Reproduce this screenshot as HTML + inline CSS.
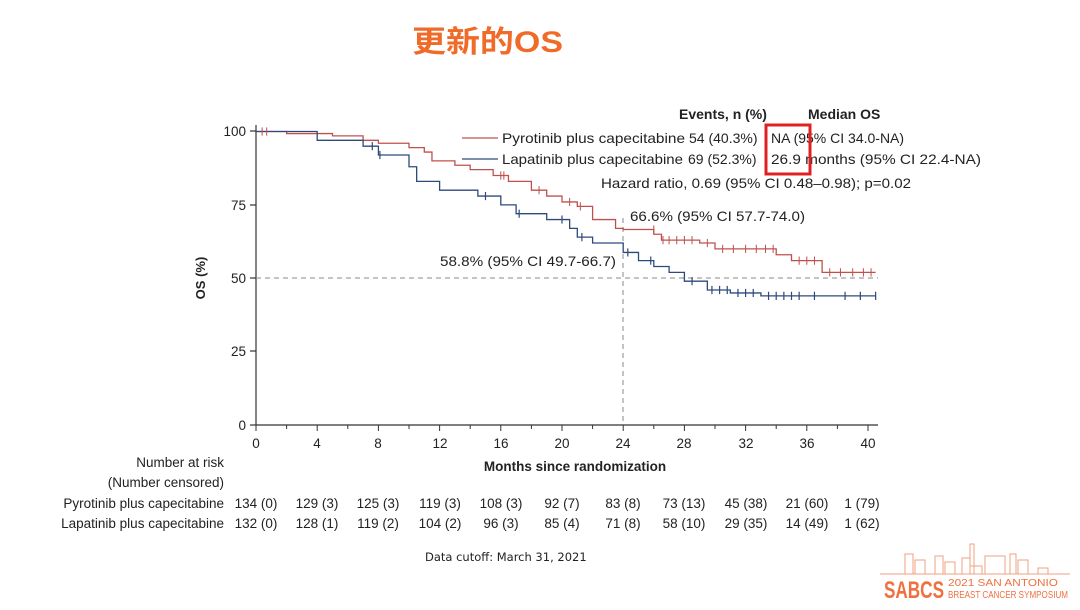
<!DOCTYPE html>
<html><head><meta charset="utf-8"><style>
body{margin:0;width:1080px;height:605px;background:#fff;overflow:hidden;font-family:"Liberation Sans",Arial,sans-serif;}
</style></head><body>
<svg width="1080" height="605" xmlns="http://www.w3.org/2000/svg" font-family="Liberation Sans, Arial, sans-serif">
<text x="412" y="52" font-size="30" font-weight="bold" fill="#f06a28" font-family="Liberation Sans, Noto Sans CJK SC, sans-serif" textLength="151" lengthAdjust="spacingAndGlyphs">更新的OS</text>
<g stroke="#333" stroke-width="1.2" fill="none">
<line x1="256" y1="125" x2="256" y2="425"/>
<line x1="256" y1="425" x2="878" y2="425"/>
<line x1="250" y1="131" x2="256" y2="131"/><line x1="250" y1="205" x2="256" y2="205"/><line x1="250" y1="278" x2="256" y2="278"/><line x1="250" y1="351" x2="256" y2="351"/><line x1="250" y1="425" x2="256" y2="425"/>
</g>
<g stroke="#333" stroke-width="1">
<line x1="256" y1="425" x2="256" y2="431"/><line x1="286.6" y1="425" x2="286.6" y2="429"/><line x1="317.2" y1="425" x2="317.2" y2="431"/><line x1="347.8" y1="425" x2="347.8" y2="429"/><line x1="378.4" y1="425" x2="378.4" y2="431"/><line x1="409" y1="425" x2="409" y2="429"/><line x1="439.6" y1="425" x2="439.6" y2="431"/><line x1="470.2" y1="425" x2="470.2" y2="429"/><line x1="500.8" y1="425" x2="500.8" y2="431"/><line x1="531.4" y1="425" x2="531.4" y2="429"/><line x1="562" y1="425" x2="562" y2="431"/><line x1="592.6" y1="425" x2="592.6" y2="429"/><line x1="623.2" y1="425" x2="623.2" y2="431"/><line x1="653.8" y1="425" x2="653.8" y2="429"/><line x1="684.4" y1="425" x2="684.4" y2="431"/><line x1="715" y1="425" x2="715" y2="429"/><line x1="745.6" y1="425" x2="745.6" y2="431"/><line x1="776.2" y1="425" x2="776.2" y2="429"/><line x1="806.8" y1="425" x2="806.8" y2="431"/><line x1="837.4" y1="425" x2="837.4" y2="429"/><line x1="868" y1="425" x2="868" y2="431"/>
</g>
<g font-size="13.5" fill="#222" text-anchor="end">
<text x="246" y="136">100</text><text x="246" y="210">75</text><text x="246" y="283">50</text><text x="246" y="356">25</text><text x="246" y="430">0</text>
</g>
<g font-size="13.5" fill="#222" text-anchor="middle">
<text x="256" y="448">0</text><text x="317" y="448">4</text><text x="378" y="448">8</text><text x="440" y="448">12</text><text x="501" y="448">16</text><text x="562" y="448">20</text><text x="623" y="448">24</text><text x="684" y="448">28</text><text x="746" y="448">32</text><text x="807" y="448">36</text><text x="868" y="448">40</text>
<text x="575" y="471" font-weight="bold">Months since randomization</text>
</g>
<text transform="translate(205,278) rotate(-90)" font-size="13" font-weight="bold" text-anchor="middle" fill="#222">OS (%)</text>
<g stroke="#888" stroke-dasharray="5,4" stroke-width="1">
<line x1="256" y1="278" x2="878" y2="278"/><line x1="623" y1="218" x2="623" y2="425"/>
</g>
<g transform="translate(256,425) scale(15.3,-2.935)" fill="none">
<path vector-effect="non-scaling-stroke" stroke-width="1.3" stroke="#c0504d" d="M0,100H2V99.3H5V98.5H7V97H8V96H10V94.5H11V93H11.5V90H13V88.5H14V87H15.5V85H16.5V83H18V80H19V78H20V76H21V74.5H22V70H23.5V67H24V66.6H26V65H26.5V63H29V62H30V60H34V58H35V56H37V52H40.5"/>
<path vector-effect="non-scaling-stroke" stroke-width="1.3" stroke="#2e4a7d" d="M0,100H4V97H7V95H8V92H10V88H10.5V83H12V80H14.5V78H16V75H17V72H19V70H20.5V67H21V64H22V62H24V58.8H25V56H26V54H27V52H28V49H29.5V46H31V45H33V44H40.5"/>
<path vector-effect="non-scaling-stroke" stroke-width="1" stroke="#c0504d" d="M0.4,101.4v-2.8M0.7,101.4v-2.8M16,86.4v-2.8M16.2,86.4v-2.8M18.5,81.4v-2.8M20.5,77.4v-2.8M21.2,75.9v-2.8M26,68v-2.8M26.6,64.4v-2.8M27,64.4v-2.8M27.5,64.4v-2.8M28,64.4v-2.8M28.5,64.4v-2.8M29.5,63.4v-2.8M30.5,61.4v-2.8M31.2,61.4v-2.8M32,61.4v-2.8M32.7,61.4v-2.8M33.3,61.4v-2.8M33.8,61.4v-2.8M35.5,57.4v-2.8M36,57.4v-2.8M36.5,57.4v-2.8M37.5,53.4v-2.8M38.2,53.4v-2.8M39,53.4v-2.8M39.7,53.4v-2.8M40.2,53.4v-2.8"/>
<path vector-effect="non-scaling-stroke" stroke-width="1.2" stroke="#2e4a7d" d="M7.6,96.4v-2.8M8.1,93.4v-2.8M15,79.4v-2.8M17.2,73.4v-2.8M20,71.4v-2.8M21.3,65.4v-2.8M24.3,60.2v-2.8M25.8,57.4v-2.8M28.5,50.4v-2.8M29.8,47.4v-2.8M30.3,47.4v-2.8M30.8,47.4v-2.8M31.5,46.4v-2.8M32,46.4v-2.8M32.5,46.4v-2.8M33.5,45.4v-2.8M34,45.4v-2.8M34.5,45.4v-2.8M35,45.4v-2.8M35.5,45.4v-2.8M36.5,45.4v-2.8M38.5,45.4v-2.8M39.5,45.4v-2.8M40.5,45.4v-2.8"/>
</g>
<g font-size="14" fill="#222">
<text x="679" y="119" font-weight="bold">Events, n (%)</text>
<text x="808" y="119" font-weight="bold">Median OS</text>
<line x1="462" y1="138" x2="498" y2="138" stroke="#c0504d" stroke-width="1.3"/>
<line x1="462" y1="159" x2="498" y2="159" stroke="#2e4a7d" stroke-width="1.3"/>
<text x="502" y="143" textLength="183" lengthAdjust="spacingAndGlyphs">Pyrotinib plus capecitabine</text>
<text x="689" y="143">54 (40.3%)</text>
<text x="771" y="143">NA (95% CI 34.0-NA)</text>
<text x="502" y="164" textLength="181" lengthAdjust="spacingAndGlyphs">Lapatinib plus capecitabine</text>
<text x="688" y="164">69 (52.3%)</text>
<text x="771" y="164" textLength="210" lengthAdjust="spacingAndGlyphs">26.9 months (95% CI 22.4-NA)</text>
<text x="601" y="188" textLength="310" lengthAdjust="spacingAndGlyphs">Hazard ratio, 0.69 (95% CI 0.48–0.98); p=0.02</text>
<text x="630" y="221" textLength="175" lengthAdjust="spacingAndGlyphs">66.6% (95% CI 57.7-74.0)</text>
<text x="440" y="266" textLength="176" lengthAdjust="spacingAndGlyphs">58.8% (95% CI 49.7-66.7)</text>
</g>
<rect x="766" y="125" width="44" height="49" fill="none" stroke="#e02020" stroke-width="3"/>
<g font-size="13.5" fill="#222">
<text x="224" y="467" text-anchor="end">Number at risk</text>
<text x="224" y="487" text-anchor="end">(Number censored)</text>
<text x="224" y="508" text-anchor="end">Pyrotinib plus capecitabine</text>
<text x="224" y="528" text-anchor="end">Lapatinib plus capecitabine</text>
<g text-anchor="middle">
<text x="256" y="508">134 (0)</text><text x="317" y="508">129 (3)</text><text x="378" y="508">125 (3)</text><text x="440" y="508">119 (3)</text><text x="501" y="508">108 (3)</text><text x="562" y="508">92 (7)</text><text x="623" y="508">83 (8)</text><text x="684" y="508">73 (13)</text><text x="746" y="508">45 (38)</text><text x="807" y="508">21 (60)</text><text x="862" y="508">1 (79)</text>
<text x="256" y="528">132 (0)</text><text x="317" y="528">128 (1)</text><text x="378" y="528">119 (2)</text><text x="440" y="528">104 (2)</text><text x="501" y="528">96 (3)</text><text x="562" y="528">85 (4)</text><text x="623" y="528">71 (8)</text><text x="684" y="528">58 (10)</text><text x="746" y="528">29 (35)</text><text x="807" y="528">14 (49)</text><text x="862" y="528">1 (62)</text>
</g>
</g>
<text x="425" y="561" font-size="11.5" fill="#222" font-family="DejaVu Sans, sans-serif">Data cutoff: March 31, 2021</text>
<g stroke="#f0a080" fill="none" stroke-width="1">
<line x1="880" y1="574" x2="1070" y2="574"/>
<path d="M905 574v-20h8v20M915 574v-14h10v14M935 574v-18h8v18M945 574v-12h10v12M962 574v-16h8v16M970 574v-8h12v8M970 574v-30h4v30M985 574v-18h20v18M1010 574v-20h6v20M1018 574v-14h10v14M1038 574v-6h10v6"/>
</g>
<text x="884" y="598" font-size="24" font-weight="bold" fill="#f07040" textLength="60" lengthAdjust="spacingAndGlyphs">SABCS</text>
<text x="948" y="586" font-size="10" fill="#f07040" textLength="110" lengthAdjust="spacingAndGlyphs">2021 SAN ANTONIO</text>
<text x="948" y="598" font-size="10" fill="#f07040" textLength="120" lengthAdjust="spacingAndGlyphs">BREAST CANCER SYMPOSIUM</text>
</svg>
</body></html>
